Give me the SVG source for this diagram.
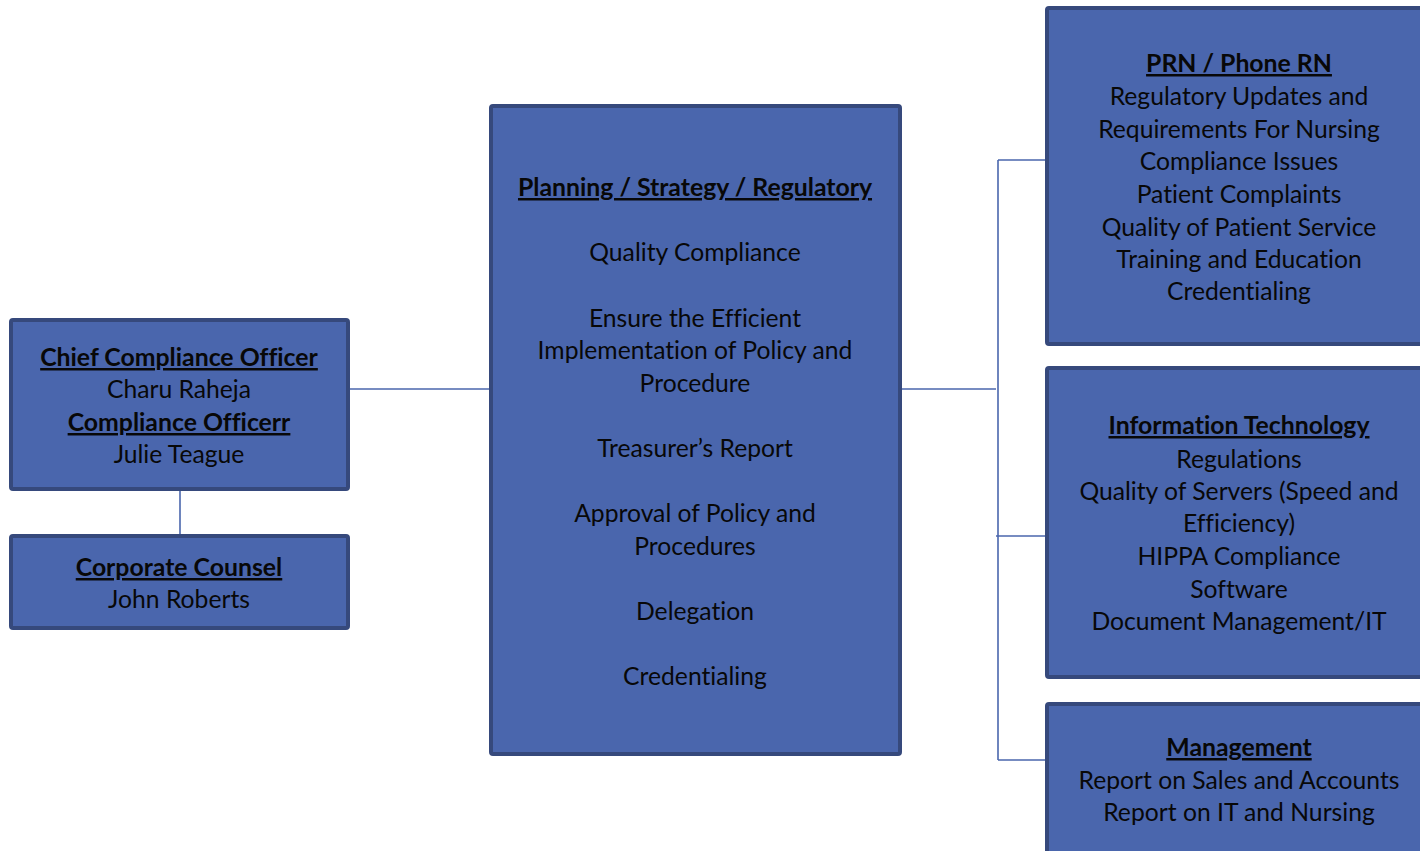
<svg xmlns="http://www.w3.org/2000/svg" width="1420" height="851" viewBox="0 0 1420 851">
  <style>
    .box { fill: #4a66ad; stroke: #36497c; stroke-width: 4; }
    .wire { fill: none; stroke: #4a66ad; stroke-width: 1.6; }
    text { font-family: "Lato", "Liberation Sans", sans-serif; font-size: 24.7px; fill: #080808; text-anchor: middle; font-variant-ligatures: none; }
    .head { font-weight: bold; font-size: 24.8px; text-decoration: underline; }
  </style>
  <rect width="1420" height="851" fill="#ffffff"/>

  <!-- connectors -->
  <g id="connectors">
    <line class="wire" x1="180" y1="490" x2="180" y2="534"/>
    <line class="wire" x1="350" y1="389" x2="489" y2="389"/>
    <line class="wire" x1="902" y1="389" x2="996" y2="389"/>
    <line class="wire" x1="998" y1="160" x2="998" y2="760"/>
    <line class="wire" x1="998" y1="160" x2="1045" y2="160"/>
    <line class="wire" x1="996" y1="536" x2="1045" y2="536"/>
    <line class="wire" x1="998" y1="760" x2="1045" y2="760"/>
  </g>

  <g id="chief-compliance">
    <rect class="box" x="11" y="320" width="337" height="169" rx="2"/>
    <text class="head" x="179" y="366">Chief Compliance Officer</text>
    <text x="179" y="398">Charu Raheja</text>
    <text class="head" x="179" y="431">Compliance Officerr</text>
    <text x="179" y="463">Julie Teague</text>
  </g>

  <g id="corporate-counsel">
    <rect class="box" x="11" y="536" width="337" height="92" rx="2"/>
    <text class="head" x="179" y="576">Corporate Counsel</text>
    <text x="179" y="608">John Roberts</text>
  </g>

  <g id="planning">
    <rect class="box" x="491" y="106" width="409" height="648" rx="2"/>
    <text class="head" x="695" y="196">Planning / Strategy / Regulatory</text>
    <text x="695" y="261">Quality Compliance</text>
    <text x="695" y="327">Ensure the Efficient</text>
    <text x="695" y="359">Implementation of Policy and</text>
    <text x="695" y="392">Procedure</text>
    <text x="695" y="457">Treasurer’s Report</text>
    <text x="695" y="522">Approval of Policy and</text>
    <text x="695" y="555">Procedures</text>
    <text x="695" y="620">Delegation</text>
    <text x="695" y="685">Credentialing</text>
  </g>

  <g id="prn">
    <rect class="box" x="1047" y="8" width="390" height="336" rx="2"/>
    <text class="head" x="1239" y="72">PRN / Phone RN</text>
    <text x="1239" y="105">Regulatory Updates and</text>
    <text x="1239" y="138">Requirements For Nursing</text>
    <text x="1239" y="170">Compliance Issues</text>
    <text x="1239" y="203">Patient Complaints</text>
    <text x="1239" y="236">Quality of Patient Service</text>
    <text x="1239" y="268">Training and Education</text>
    <text x="1239" y="300">Credentialing</text>
  </g>

  <g id="information-technology">
    <rect class="box" x="1047" y="368" width="390" height="309" rx="2"/>
    <text class="head" x="1239" y="434">Information Technology</text>
    <text x="1239" y="468">Regulations</text>
    <text x="1239" y="500">Quality of Servers (Speed and</text>
    <text x="1239" y="532">Efficiency)</text>
    <text x="1239" y="565">HIPPA Compliance</text>
    <text x="1239" y="598">Software</text>
    <text x="1239" y="630">Document Management/IT</text>
  </g>

  <g id="management">
    <rect class="box" x="1047" y="704" width="390" height="170" rx="2"/>
    <text class="head" x="1239" y="756">Management</text>
    <text x="1239" y="789">Report on Sales and Accounts</text>
    <text x="1239" y="821">Report on IT and Nursing</text>
  </g>
</svg>
